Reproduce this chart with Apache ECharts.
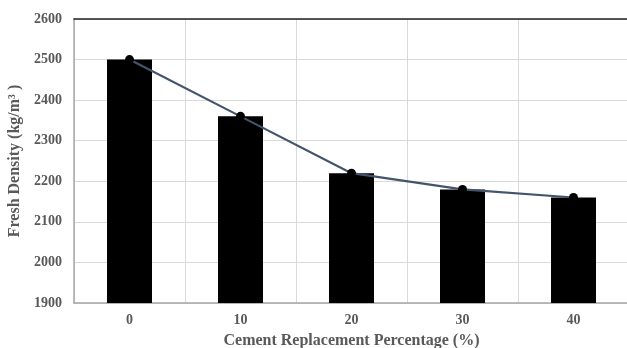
<!DOCTYPE html>
<html><head><meta charset="utf-8">
<script src="https://cdn.jsdelivr.net/npm/echarts@6/dist/echarts.min.js"></script>
<style>html,body{margin:0;padding:0;background:#fff}#c{width:627px;height:348px}</style>
</head><body><div id="c"></div>
<script>
var categories = ['0', '10', '20', '30', '40'];
var barValues = [2500, 2360, 2220, 2180, 2160];
var lineValues = [2500, 2360, 2220, 2180, 2160];
var yMin = 1900, yMax = 2600, yStep = 100;

var font = '"Liberation Serif", "Times New Roman", serif';
var chart = echarts.init(document.getElementById('c'), null, {renderer: 'canvas'});
chart.setOption({
  animation: false,
  backgroundColor: '#fff',
  grid: {left: 74, top: 19, right: -2, bottom: 45, containLabel: false, outerBoundsMode: 'none'},
  xAxis: [{
    type: 'category', data: categories, position: 'bottom',
    axisLine: {lineStyle: {color: '#a6a6a6', width: 1.5}},
    axisTick: {show: false},
    splitLine: {show: true, lineStyle: {color: '#d9d9d9', width: 1}},
    axisLabel: {color: '#595959', fontFamily: font, fontWeight: 'bold', fontSize: 14, margin: 10},
    name: 'Cement Replacement Percentage (%)', nameLocation: 'middle', nameGap: 30,
    nameTextStyle: {color: '#595959', fontFamily: font, fontWeight: 'bold', fontSize: 16}
  }, {
    type: 'category', data: categories, position: 'top',
    axisLine: {lineStyle: {color: '#222', width: 1.5}},
    axisTick: {show: false}, axisLabel: {show: false}, splitLine: {show: false}
  }],
  yAxis: {
    type: 'value', min: yMin, max: yMax, interval: yStep,
    axisLine: {show: true, lineStyle: {color: '#a6a6a6', width: 1.5}},
    axisTick: {show: false},
    splitLine: {lineStyle: {color: '#d9d9d9', width: 1}},
    axisLabel: {color: '#595959', fontFamily: font, fontWeight: 'bold', fontSize: 14, margin: 12,
      formatter: function (v) { return String(v); }},
    name: 'Fresh Density (kg/m\u00b3 )', nameLocation: 'middle', nameGap: 41, nameRotate: 90,
    nameTextStyle: {color: '#595959', fontFamily: font, fontWeight: 'bold', fontSize: 16}
  },
  series: [{
    type: 'bar', data: barValues, barWidth: 45,
    itemStyle: {color: '#000'}
  }, {
    type: 'line', data: lineValues,
    lineStyle: {color: '#44546A', width: 2.2},
    symbol: 'circle', symbolSize: 9,
    itemStyle: {color: '#000'}
  }]
});
</script></body></html>
